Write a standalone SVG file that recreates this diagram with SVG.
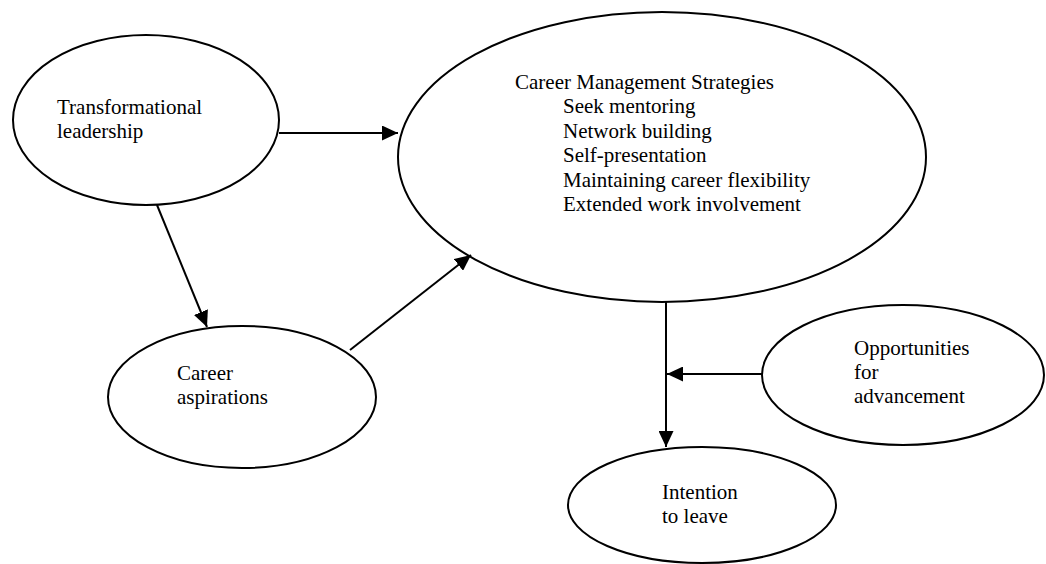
<svg xmlns="http://www.w3.org/2000/svg" width="1046" height="564" viewBox="0 0 1046 564">
<style>
.node ellipse{fill:#fff;stroke:#000;stroke-width:2}
.node text{font-family:"Liberation Serif","Times New Roman",serif;font-size:21px;fill:#000}
.conn line{stroke:#000;stroke-width:2}
</style>
<defs>
<marker id="ah" markerUnits="userSpaceOnUse" markerWidth="16" markerHeight="15" refX="16" refY="7.5" orient="auto">
<path d="M0,0 L16,7.5 L0,15 z" fill="#000"/>
</marker>
</defs>
<rect width="1046" height="564" fill="#fff"/>
<g id="transformational-leadership" class="node">
<ellipse cx="146" cy="120" rx="133" ry="85"/>
<text x="57" y="114">Transformational</text>
<text x="57" y="138">leadership</text>
</g>
<g id="career-management-strategies" class="node">
<ellipse cx="662" cy="157" rx="264" ry="145"/>
<text x="515" y="89">Career Management Strategies</text>
<text x="563" y="113">Seek mentoring</text>
<text x="563" y="138">Network building</text>
<text x="563" y="162">Self-presentation</text>
<text x="563" y="187">Maintaining career flexibility</text>
<text x="563" y="211">Extended work involvement</text>
</g>
<g id="career-aspirations" class="node">
<ellipse cx="242" cy="397" rx="134" ry="71"/>
<text x="177" y="380">Career</text>
<text x="177" y="404">aspirations</text>
</g>
<g id="opportunities-for-advancement" class="node">
<ellipse cx="903" cy="375" rx="141" ry="70"/>
<text x="854" y="355">Opportunities</text>
<text x="854" y="379">for</text>
<text x="854" y="403">advancement</text>
</g>
<g id="intention-to-leave" class="node">
<ellipse cx="702" cy="505" rx="134" ry="58"/>
<text x="662" y="499">Intention</text>
<text x="662" y="523">to leave</text>
</g>
<g id="connectors" class="conn">
<line x1="279" y1="133" x2="398" y2="133" marker-end="url(#ah)"/>
<line x1="157" y1="205" x2="207" y2="327" marker-end="url(#ah)"/>
<line x1="350" y1="350" x2="471" y2="255" marker-end="url(#ah)"/>
<line x1="666" y1="302" x2="666" y2="447" marker-end="url(#ah)"/>
<line x1="762" y1="374" x2="667" y2="374" marker-end="url(#ah)"/>
</g>
</svg>
